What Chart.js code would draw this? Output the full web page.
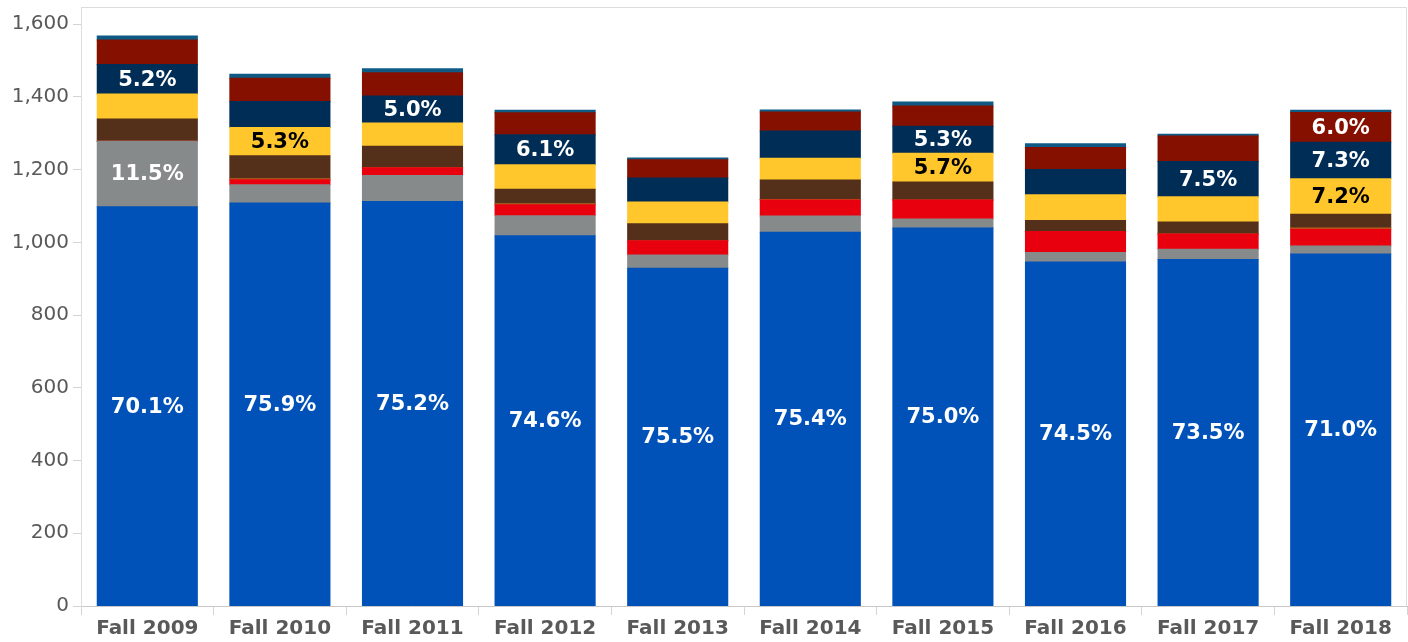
<!DOCTYPE html>
<html>
<head>
<meta charset="utf-8">
<script src="https://cdn.jsdelivr.net/npm/chart.js@4"></script>
<style>
  body { margin: 0; background: #fff; }
  #wrap { width: 1408px; height: 642px; position: relative; }
</style>
</head>
<body>
<div id="wrap"><canvas id="enrollChart"></canvas></div>
<script>
const categories = ["Fall 2009", "Fall 2010", "Fall 2011", "Fall 2012", "Fall 2013",
                    "Fall 2014", "Fall 2015", "Fall 2016", "Fall 2017", "Fall 2018"]
const yTicks = [0, 200, 400, 600, 800, 1000, 1200, 1400, 1600]

// stacked from the bottom up
const blueValues    = [1098, 1108, 1112, 1018, 929, 1028, 1039, 946, 953, 968]
const grayValues    = [180, 50, 72, 55, 36, 44, 25, 26, 28, 22]
const redValues     = [0, 14, 21, 30, 39, 44, 52, 58, 42, 46]
const orangeValues  = [0, 3, 1, 3, 0, 2, 0, 0, 0, 3]
const brownValues   = [61, 63, 58, 40, 47, 53, 50, 30, 33, 38]
const yellowValues  = [69, 78, 64, 67, 60, 60, 79, 71, 69, 98]
const navyValues    = [81, 71, 74, 83, 66, 75, 74, 69, 97, 100]
const darkRedValues = [67, 64, 64, 60, 50, 52, 56, 61, 70, 82]
const topValues     = [11, 11, 11, 7, 5, 6, 11, 10, 5, 6]

// the percent labels printed inside the segments
const blueLabels    = ["70.1%", "75.9%", "75.2%", "74.6%", "75.5%", "75.4%", "75.0%", "74.5%", "73.5%", "71.0%"]
const grayLabels    = ["11.5%", null, null, null, null, null, null, null, null, null]
const yellowLabels  = [null, "5.3%", null, null, null, null, "5.7%", null, null, "7.2%"]
const navyLabels    = ["5.2%", null, "5.0%", "6.1%", null, null, "5.3%", null, "7.5%", "7.3%"]
const darkRedLabels = [null, null, null, null, null, null, null, null, null, "6.0%"]

function series(values, color, labels, labelColor) {
    return {
        data: values,
        backgroundColor: color,
        borderWidth: 0,
        inflateAmount: 0.5,
        pctLabels: labels || null,
        labelColor: labelColor || "#fff"
    }
}

const segmentLabels = {
    id: "segmentLabels",
    afterDatasetsDraw(chart) {
        const c = chart.ctx
        c.save()
        c.font = "bold 21px 'DejaVu Sans'"
        c.textAlign = "center"
        c.textBaseline = "middle"
        chart.data.datasets.forEach((ds, i) => {
            if (!ds.pctLabels) return
            chart.getDatasetMeta(i).data.forEach((bar, j) => {
                const txt = ds.pctLabels[j]
                if (!txt) return
                c.fillStyle = ds.labelColor
                c.fillText(txt, bar.x, (bar.y + bar.base) / 2 + 1)
            })
        })
        c.restore()
    }
}

const plotFrame = {
    id: "plotFrame",
    afterDraw(chart) {
        const a = chart.chartArea
        const c = chart.ctx
        c.save()
        c.strokeStyle = "#dcdcdc"
        c.lineWidth = 1
        c.beginPath()
        c.moveTo(a.left + 0.5, a.bottom)
        c.lineTo(a.left + 0.5, a.top + 0.5)
        c.lineTo(a.right - 0.5, a.top + 0.5)
        c.lineTo(a.right - 0.5, a.bottom)
        c.stroke()
        c.restore()
    }
}

const ctx = document.getElementById("enrollChart")

new Chart(ctx, {
    type: "bar",
    data: {
        labels: categories,
        datasets: [
            series(blueValues, "#0052b9", blueLabels),
            series(grayValues, "#878a8a", grayLabels),
            series(redValues, "#e8000f"),
            series(orangeValues, "#b5651e"),
            series(brownValues, "#54301b"),
            series(yellowValues, "#ffc72c", yellowLabels, "#000"),
            series(navyValues, "#002d56", navyLabels),
            series(darkRedValues, "#861000", darkRedLabels),
            series(topValues, "#0e5a84")
        ]
    },
    options: {
        responsive: true,
        maintainAspectRatio: false,
        animation: false,
        layout: { padding: { top: 7, right: 1, left: 0, bottom: 0 } },
        datasets: { bar: { categoryPercentage: 0.755, barPercentage: 1 } },
        plugins: { legend: { display: false }, tooltip: { enabled: false } },
        scales: {
            x: {
                stacked: true,
                grid: { offset: true, drawOnChartArea: false, tickLength: 9, color: "#d4d4d4" },
                border: { color: "#c8c8c8", dash: [2, 2] },
                ticks: { color: "#595959", font: { family: "DejaVu Sans", size: 20, weight: "bold" }, padding: 2, maxRotation: 0 },
                afterFit: (axis) => { axis.height = 36; axis.paddingLeft = 0; axis.paddingRight = 0 }
            },
            y: {
                stacked: true,
                min: 0,
                max: 1647,
                grid: { drawOnChartArea: false, tickLength: 8, color: "#d4d4d4" },
                border: { color: "#dcdcdc" },
                ticks: { stepSize: 200, color: "#595959", font: { family: "DejaVu Sans", size: 20 }, padding: 4 },
                afterBuildTicks: (axis) => { axis.ticks = yTicks.map(v => ({ value: v })) },
                afterFit: (axis) => { axis.width = 81; axis.paddingTop = 0; axis.paddingBottom = 0 }
            }
        }
    },
    plugins: [segmentLabels, plotFrame]
})
</script>
</body>
</html>
